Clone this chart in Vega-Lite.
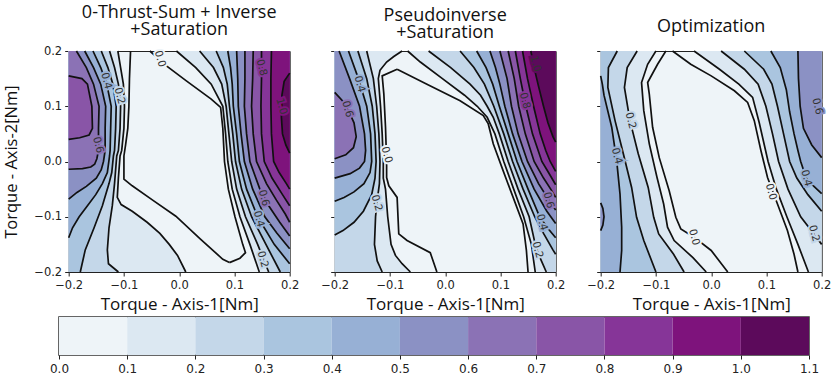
{
"$schema": "https://vega.github.io/schema/vega-lite/v6.json",
"padding": {"left": 3, "top": 3, "right": 0, "bottom": 0},
"config": {
 "font": "DejaVu Sans",
 "view": {"stroke": "#222", "strokeWidth": 1},
 "axis": {"grid": false, "domain": false, "tickColor": "#222", "tickSize": 4, "tickWidth": 1, "labelFont": "DejaVu Sans", "labelFontSize": 11.5, "labelColor": "#222", "labelFlush": false, "labelOverlap": false, "titleFont": "Open Sans", "titleFontSize": 16.5, "titleFontWeight": "normal", "titleColor": "#111"},
 "axisX": {"labelPadding": 3, "titlePadding": 6, "titleFontSize": 17},
 "axisY": {"labelPadding": 3, "titlePadding": 14},
 "title": {"font": "Open Sans", "fontSize": 18, "fontWeight": "normal", "color": "#111", "lineHeight": 17, "offset": 6, "anchor": "middle"}
},
"datasets": {
 "bar": [{"v":0,"v2":0.1},{"v":0.1,"v2":0.2},{"v":0.2,"v2":0.3},{"v":0.3,"v2":0.4},{"v":0.4,"v2":0.5},{"v":0.5,"v2":0.6},{"v":0.6,"v2":0.7},{"v":0.7,"v2":0.8},{"v":0.8,"v2":0.9},{"v":0.9,"v2":1.0},{"v":1.0,"v2":1.1}],
 "labels": [
  {"p":1,"t":"0.0","x":-0.035,"y":0.186,"c":0},
  {"p":1,"t":"0.4","x":-0.132,"y":0.146,"c":0.4},
  {"p":1,"t":"0.2","x":-0.108,"y":0.119,"c":0.2},
  {"p":1,"t":"0.6","x":-0.147,"y":0.03,"c":0.6},
  {"p":1,"t":"0.8","x":0.149,"y":0.17,"c":0.8},
  {"p":1,"t":"1.0","x":0.185,"y":0.1,"c":0.9},
  {"p":1,"t":"0.6","x":0.153,"y":-0.066,"c":0.6},
  {"p":1,"t":"0.4","x":0.144,"y":-0.104,"c":0.4},
  {"p":1,"t":"0.2","x":0.151,"y":-0.177,"c":0.2},
  {"p":2,"t":"0.4","x":-0.155,"y":0.14,"c":0.4},
  {"p":2,"t":"0.6","x":-0.177,"y":0.095,"c":0.6},
  {"p":2,"t":"0.0","x":-0.106,"y":0.012,"c":0},
  {"p":2,"t":"0.2","x":-0.124,"y":-0.075,"c":0.2},
  {"p":2,"t":"1.0","x":0.163,"y":0.177,"c":1.0},
  {"p":2,"t":"0.8","x":0.144,"y":0.11,"c":0.8},
  {"p":2,"t":"0.6","x":0.187,"y":-0.07,"c":0.6},
  {"p":2,"t":"0.4","x":0.175,"y":-0.11,"c":0.4},
  {"p":2,"t":"0.2","x":0.167,"y":-0.16,"c":0.2},
  {"p":3,"t":"0.2","x":-0.146,"y":0.074,"c":0.2},
  {"p":3,"t":"0.4","x":-0.171,"y":0.01,"c":0.4},
  {"p":3,"t":"0.0","x":-0.031,"y":-0.137,"c":0},
  {"p":3,"t":"0.0","x":0.108,"y":-0.055,"c":0},
  {"p":3,"t":"0.4","x":0.172,"y":-0.03,"c":0.4},
  {"p":3,"t":"0.2","x":0.186,"y":-0.13,"c":0.2},
  {"p":3,"t":"0.6","x":0.192,"y":0.1,"c":0.5}
 ],
 "contours": [
  {"p":1,"id":"1N1","s":"N","c":0,"y":0.2,"x":-0.088},{"p":1,"id":"1N1","s":"N","c":0,"y":0.15,"x":-0.09},{"p":1,"id":"1N1","s":"N","c":0,"y":0.1,"x":-0.091},{"p":1,"id":"1N1","s":"N","c":0,"y":0.06,"x":-0.093},{"p":1,"id":"1N1","s":"N","c":0,"y":0.03,"x":-0.097},{"p":1,"id":"1N1","s":"N","c":0,"y":0.01,"x":-0.1},{"p":1,"id":"1N1","s":"N","c":0,"y":-0.032,"x":-0.1},{"p":1,"id":"1N1","s":"N","c":0,"y":-0.044,"x":-0.085},{"p":1,"id":"1N1","s":"N","c":0,"y":-0.07,"x":-0.048},{"p":1,"id":"1N1","s":"N","c":0,"y":-0.099,"x":-0.006},{"p":1,"id":"1N1","s":"N","c":0,"y":-0.14,"x":0.038},{"p":1,"id":"1N1","s":"N","c":0,"y":-0.177,"x":0.079},{"p":1,"id":"1N1","s":"N","c":0,"y":-0.183,"x":0.091},
  {"p":1,"id":"1N2","s":"N","c":0,"y":0.2,"x":-0.053},{"p":1,"id":"1N2","s":"N","c":0,"y":0.173,"x":-0.023},{"p":1,"id":"1N2","s":"N","c":0,"y":0.146,"x":0.013},{"p":1,"id":"1N2","s":"N","c":0,"y":0.113,"x":0.058},{"p":1,"id":"1N2","s":"N","c":0,"y":0.098,"x":0.075},{"p":1,"id":"1N2","s":"N","c":0,"y":0.06,"x":0.079},{"p":1,"id":"1N2","s":"N","c":0,"y":0.0,"x":0.082},{"p":1,"id":"1N2","s":"N","c":0,"y":-0.05,"x":0.089},{"p":1,"id":"1N2","s":"N","c":0,"y":-0.1,"x":0.101},{"p":1,"id":"1N2","s":"N","c":0,"y":-0.15,"x":0.115},{"p":1,"id":"1N2","s":"N","c":0,"y":-0.165,"x":0.12},{"p":1,"id":"1N2","s":"N","c":0,"y":-0.175,"x":0.11},{"p":1,"id":"1N2","s":"N","c":0,"y":-0.183,"x":0.091},

  {"p":1,"id":"1L01","s":"L","c":0.1,"y":0.2,"x":-0.111},{"p":1,"id":"1L01","s":"L","c":0.1,"y":0.17,"x":-0.106},{"p":1,"id":"1L01","s":"L","c":0.1,"y":0.14,"x":-0.101},{"p":1,"id":"1L01","s":"L","c":0.1,"y":0.1,"x":-0.099},{"p":1,"id":"1L01","s":"L","c":0.1,"y":0.06,"x":-0.1},{"p":1,"id":"1L01","s":"L","c":0.1,"y":0.02,"x":-0.104},{"p":1,"id":"1L01","s":"L","c":0.1,"y":0.01,"x":-0.107},{"p":1,"id":"1L01","s":"L","c":0.1,"y":-0.03,"x":-0.11},{"p":1,"id":"1L01","s":"L","c":0.1,"y":-0.065,"x":-0.112},{"p":1,"id":"1L01","s":"L","c":0.1,"y":-0.078,"x":-0.105},{"p":1,"id":"1L01","s":"L","c":0.1,"y":-0.09,"x":-0.085},{"p":1,"id":"1L01","s":"L","c":0.1,"y":-0.11,"x":-0.058},{"p":1,"id":"1L01","s":"L","c":0.1,"y":-0.13,"x":-0.035},{"p":1,"id":"1L01","s":"L","c":0.1,"y":-0.15,"x":-0.018},{"p":1,"id":"1L01","s":"L","c":0.1,"y":-0.17,"x":-0.003},{"p":1,"id":"1L01","s":"L","c":0.1,"y":-0.2,"x":0.012},
  {"p":1,"id":"1L02","s":"L","c":0.2,"y":0.2,"x":-0.126},{"p":1,"id":"1L02","s":"L","c":0.2,"y":0.17,"x":-0.117},{"p":1,"id":"1L02","s":"L","c":0.2,"y":0.14,"x":-0.11},{"p":1,"id":"1L02","s":"L","c":0.2,"y":0.1,"x":-0.106},{"p":1,"id":"1L02","s":"L","c":0.2,"y":0.06,"x":-0.107},{"p":1,"id":"1L02","s":"L","c":0.2,"y":0.02,"x":-0.11},{"p":1,"id":"1L02","s":"L","c":0.2,"y":0.01,"x":-0.113},{"p":1,"id":"1L02","s":"L","c":0.2,"y":-0.04,"x":-0.117},{"p":1,"id":"1L02","s":"L","c":0.2,"y":-0.08,"x":-0.121},{"p":1,"id":"1L02","s":"L","c":0.2,"y":-0.12,"x":-0.127},{"p":1,"id":"1L02","s":"L","c":0.2,"y":-0.16,"x":-0.13},{"p":1,"id":"1L02","s":"L","c":0.2,"y":-0.185,"x":-0.128},{"p":1,"id":"1L02","s":"L","c":0.2,"y":-0.2,"x":-0.11},
  {"p":1,"id":"1L03","s":"L","c":0.3,"y":0.2,"x":-0.141},{"p":1,"id":"1L03","s":"L","c":0.3,"y":0.17,"x":-0.129},{"p":1,"id":"1L03","s":"L","c":0.3,"y":0.14,"x":-0.12},{"p":1,"id":"1L03","s":"L","c":0.3,"y":0.1,"x":-0.114},{"p":1,"id":"1L03","s":"L","c":0.3,"y":0.06,"x":-0.115},{"p":1,"id":"1L03","s":"L","c":0.3,"y":0.02,"x":-0.117},{"p":1,"id":"1L03","s":"L","c":0.3,"y":0.01,"x":-0.119},{"p":1,"id":"1L03","s":"L","c":0.3,"y":-0.02,"x":-0.122},{"p":1,"id":"1L03","s":"L","c":0.3,"y":-0.04,"x":-0.127},{"p":1,"id":"1L03","s":"L","c":0.3,"y":-0.08,"x":-0.139},{"p":1,"id":"1L03","s":"L","c":0.3,"y":-0.12,"x":-0.154},{"p":1,"id":"1L03","s":"L","c":0.3,"y":-0.16,"x":-0.17},{"p":1,"id":"1L03","s":"L","c":0.3,"y":-0.2,"x":-0.179},
  {"p":1,"id":"1L04","s":"L","c":0.4,"y":0.2,"x":-0.156},{"p":1,"id":"1L04","s":"L","c":0.4,"y":0.17,"x":-0.142},{"p":1,"id":"1L04","s":"L","c":0.4,"y":0.14,"x":-0.131},{"p":1,"id":"1L04","s":"L","c":0.4,"y":0.1,"x":-0.123},{"p":1,"id":"1L04","s":"L","c":0.4,"y":0.06,"x":-0.124},{"p":1,"id":"1L04","s":"L","c":0.4,"y":0.02,"x":-0.125},{"p":1,"id":"1L04","s":"L","c":0.4,"y":0.01,"x":-0.126},{"p":1,"id":"1L04","s":"L","c":0.4,"y":-0.02,"x":-0.13},{"p":1,"id":"1L04","s":"L","c":0.4,"y":-0.04,"x":-0.139},{"p":1,"id":"1L04","s":"L","c":0.4,"y":-0.06,"x":-0.151},{"p":1,"id":"1L04","s":"L","c":0.4,"y":-0.08,"x":-0.166},{"p":1,"id":"1L04","s":"L","c":0.4,"y":-0.1,"x":-0.181},{"p":1,"id":"1L04","s":"L","c":0.4,"y":-0.12,"x":-0.193},{"p":1,"id":"1L04","s":"L","c":0.4,"y":-0.138,"x":-0.2},
  {"p":1,"id":"1L05","s":"L","c":0.5,"y":0.2,"x":-0.171},{"p":1,"id":"1L05","s":"L","c":0.5,"y":0.17,"x":-0.155},{"p":1,"id":"1L05","s":"L","c":0.5,"y":0.14,"x":-0.142},{"p":1,"id":"1L05","s":"L","c":0.5,"y":0.1,"x":-0.133},{"p":1,"id":"1L05","s":"L","c":0.5,"y":0.06,"x":-0.134},{"p":1,"id":"1L05","s":"L","c":0.5,"y":0.02,"x":-0.134},{"p":1,"id":"1L05","s":"L","c":0.5,"y":0.0,"x":-0.137},{"p":1,"id":"1L05","s":"L","c":0.5,"y":-0.015,"x":-0.141},{"p":1,"id":"1L05","s":"L","c":0.5,"y":-0.03,"x":-0.15},{"p":1,"id":"1L05","s":"L","c":0.5,"y":-0.045,"x":-0.168},{"p":1,"id":"1L05","s":"L","c":0.5,"y":-0.056,"x":-0.185},{"p":1,"id":"1L05","s":"L","c":0.5,"y":-0.068,"x":-0.2},
  {"p":1,"id":"1L06","s":"L","c":0.6,"y":0.2,"x":-0.186},{"p":1,"id":"1L06","s":"L","c":0.6,"y":0.17,"x":-0.168},{"p":1,"id":"1L06","s":"L","c":0.6,"y":0.14,"x":-0.155},{"p":1,"id":"1L06","s":"L","c":0.6,"y":0.1,"x":-0.145},{"p":1,"id":"1L06","s":"L","c":0.6,"y":0.06,"x":-0.146},{"p":1,"id":"1L06","s":"L","c":0.6,"y":0.02,"x":-0.146},{"p":1,"id":"1L06","s":"L","c":0.6,"y":0.005,"x":-0.149},{"p":1,"id":"1L06","s":"L","c":0.6,"y":-0.005,"x":-0.153},{"p":1,"id":"1L06","s":"L","c":0.6,"y":-0.01,"x":-0.16},{"p":1,"id":"1L06","s":"L","c":0.6,"y":-0.013,"x":-0.175},{"p":1,"id":"1L06","s":"L","c":0.6,"y":-0.014,"x":-0.2},
  {"p":1,"id":"1L07","s":"L","c":0.7,"y":0.155,"x":-0.2},{"p":1,"id":"1L07","s":"L","c":0.7,"y":0.15,"x":-0.176},{"p":1,"id":"1L07","s":"L","c":0.7,"y":0.14,"x":-0.166},{"p":1,"id":"1L07","s":"L","c":0.7,"y":0.1,"x":-0.158},{"p":1,"id":"1L07","s":"L","c":0.7,"y":0.06,"x":-0.157},{"p":1,"id":"1L07","s":"L","c":0.7,"y":0.048,"x":-0.163},{"p":1,"id":"1L07","s":"L","c":0.7,"y":0.043,"x":-0.18},{"p":1,"id":"1L07","s":"L","c":0.7,"y":0.04,"x":-0.2},

  {"p":1,"id":"1R01","s":"R","c":0.1,"y":0.2,"x":-0.005},{"p":1,"id":"1R01","s":"R","c":0.1,"y":0.17,"x":0.03},{"p":1,"id":"1R01","s":"R","c":0.1,"y":0.14,"x":0.058},{"p":1,"id":"1R01","s":"R","c":0.1,"y":0.1,"x":0.079},{"p":1,"id":"1R01","s":"R","c":0.1,"y":0.05,"x":0.084},{"p":1,"id":"1R01","s":"R","c":0.1,"y":0.0,"x":0.088},{"p":1,"id":"1R01","s":"R","c":0.1,"y":-0.05,"x":0.096},{"p":1,"id":"1R01","s":"R","c":0.1,"y":-0.1,"x":0.11},{"p":1,"id":"1R01","s":"R","c":0.1,"y":-0.15,"x":0.128},{"p":1,"id":"1R01","s":"R","c":0.1,"y":-0.2,"x":0.145},
  {"p":1,"id":"1R02","s":"R","c":0.2,"y":0.2,"x":0.037},{"p":1,"id":"1R02","s":"R","c":0.2,"y":0.17,"x":0.062},{"p":1,"id":"1R02","s":"R","c":0.2,"y":0.14,"x":0.077},{"p":1,"id":"1R02","s":"R","c":0.2,"y":0.1,"x":0.085},{"p":1,"id":"1R02","s":"R","c":0.2,"y":0.05,"x":0.09},{"p":1,"id":"1R02","s":"R","c":0.2,"y":0.0,"x":0.095},{"p":1,"id":"1R02","s":"R","c":0.2,"y":-0.05,"x":0.104},{"p":1,"id":"1R02","s":"R","c":0.2,"y":-0.1,"x":0.12},{"p":1,"id":"1R02","s":"R","c":0.2,"y":-0.15,"x":0.142},{"p":1,"id":"1R02","s":"R","c":0.2,"y":-0.2,"x":0.162},
  {"p":1,"id":"1R03","s":"R","c":0.3,"y":0.2,"x":0.067},{"p":1,"id":"1R03","s":"R","c":0.3,"y":0.17,"x":0.08},{"p":1,"id":"1R03","s":"R","c":0.3,"y":0.14,"x":0.087},{"p":1,"id":"1R03","s":"R","c":0.3,"y":0.1,"x":0.091},{"p":1,"id":"1R03","s":"R","c":0.3,"y":0.05,"x":0.097},{"p":1,"id":"1R03","s":"R","c":0.3,"y":0.0,"x":0.102},{"p":1,"id":"1R03","s":"R","c":0.3,"y":-0.05,"x":0.113},{"p":1,"id":"1R03","s":"R","c":0.3,"y":-0.1,"x":0.131},{"p":1,"id":"1R03","s":"R","c":0.3,"y":-0.15,"x":0.157},{"p":1,"id":"1R03","s":"R","c":0.3,"y":-0.2,"x":0.183},
  {"p":1,"id":"1R04","s":"R","c":0.4,"y":0.2,"x":0.088},{"p":1,"id":"1R04","s":"R","c":0.4,"y":0.17,"x":0.093},{"p":1,"id":"1R04","s":"R","c":0.4,"y":0.14,"x":0.096},{"p":1,"id":"1R04","s":"R","c":0.4,"y":0.1,"x":0.098},{"p":1,"id":"1R04","s":"R","c":0.4,"y":0.05,"x":0.104},{"p":1,"id":"1R04","s":"R","c":0.4,"y":0.0,"x":0.109},{"p":1,"id":"1R04","s":"R","c":0.4,"y":-0.05,"x":0.122},{"p":1,"id":"1R04","s":"R","c":0.4,"y":-0.1,"x":0.142},{"p":1,"id":"1R04","s":"R","c":0.4,"y":-0.15,"x":0.172},{"p":1,"id":"1R04","s":"R","c":0.4,"y":-0.185,"x":0.2},
  {"p":1,"id":"1R05","s":"R","c":0.5,"y":0.2,"x":0.104},{"p":1,"id":"1R05","s":"R","c":0.5,"y":0.15,"x":0.106},{"p":1,"id":"1R05","s":"R","c":0.5,"y":0.1,"x":0.107},{"p":1,"id":"1R05","s":"R","c":0.5,"y":0.05,"x":0.112},{"p":1,"id":"1R05","s":"R","c":0.5,"y":0.0,"x":0.118},{"p":1,"id":"1R05","s":"R","c":0.5,"y":-0.05,"x":0.133},{"p":1,"id":"1R05","s":"R","c":0.5,"y":-0.1,"x":0.155},{"p":1,"id":"1R05","s":"R","c":0.5,"y":-0.13,"x":0.177},{"p":1,"id":"1R05","s":"R","c":0.5,"y":-0.158,"x":0.2},
  {"p":1,"id":"1R06","s":"R","c":0.6,"y":0.2,"x":0.119},{"p":1,"id":"1R06","s":"R","c":0.6,"y":0.15,"x":0.119},{"p":1,"id":"1R06","s":"R","c":0.6,"y":0.1,"x":0.118},{"p":1,"id":"1R06","s":"R","c":0.6,"y":0.05,"x":0.122},{"p":1,"id":"1R06","s":"R","c":0.6,"y":0.0,"x":0.128},{"p":1,"id":"1R06","s":"R","c":0.6,"y":-0.05,"x":0.146},{"p":1,"id":"1R06","s":"R","c":0.6,"y":-0.08,"x":0.162},{"p":1,"id":"1R06","s":"R","c":0.6,"y":-0.11,"x":0.182},{"p":1,"id":"1R06","s":"R","c":0.6,"y":-0.135,"x":0.2},
  {"p":1,"id":"1R07","s":"R","c":0.7,"y":0.2,"x":0.134},{"p":1,"id":"1R07","s":"R","c":0.7,"y":0.15,"x":0.133},{"p":1,"id":"1R07","s":"R","c":0.7,"y":0.1,"x":0.131},{"p":1,"id":"1R07","s":"R","c":0.7,"y":0.05,"x":0.134},{"p":1,"id":"1R07","s":"R","c":0.7,"y":0.0,"x":0.14},{"p":1,"id":"1R07","s":"R","c":0.7,"y":-0.04,"x":0.158},{"p":1,"id":"1R07","s":"R","c":0.7,"y":-0.07,"x":0.176},{"p":1,"id":"1R07","s":"R","c":0.7,"y":-0.095,"x":0.192},{"p":1,"id":"1R07","s":"R","c":0.7,"y":-0.11,"x":0.2},
  {"p":1,"id":"1R08","s":"R","c":0.8,"y":0.2,"x":0.149},{"p":1,"id":"1R08","s":"R","c":0.8,"y":0.15,"x":0.149},{"p":1,"id":"1R08","s":"R","c":0.8,"y":0.1,"x":0.148},{"p":1,"id":"1R08","s":"R","c":0.8,"y":0.05,"x":0.149},{"p":1,"id":"1R08","s":"R","c":0.8,"y":0.0,"x":0.154},{"p":1,"id":"1R08","s":"R","c":0.8,"y":-0.03,"x":0.168},{"p":1,"id":"1R08","s":"R","c":0.8,"y":-0.06,"x":0.187},{"p":1,"id":"1R08","s":"R","c":0.8,"y":-0.08,"x":0.2},
  {"p":1,"id":"1R09","s":"R","c":0.9,"y":0.2,"x":0.167},{"p":1,"id":"1R09","s":"R","c":0.9,"y":0.15,"x":0.166},{"p":1,"id":"1R09","s":"R","c":0.9,"y":0.1,"x":0.166},{"p":1,"id":"1R09","s":"R","c":0.9,"y":0.05,"x":0.167},{"p":1,"id":"1R09","s":"R","c":0.9,"y":0.0,"x":0.171},{"p":1,"id":"1R09","s":"R","c":0.9,"y":-0.02,"x":0.181},{"p":1,"id":"1R09","s":"R","c":0.9,"y":-0.04,"x":0.194},{"p":1,"id":"1R09","s":"R","c":0.9,"y":-0.05,"x":0.2},
  {"p":1,"id":"1R10","s":"R","c":1.0,"y":0.16,"x":0.2},{"p":1,"id":"1R10","s":"R","c":1.0,"y":0.145,"x":0.19},{"p":1,"id":"1R10","s":"R","c":1.0,"y":0.12,"x":0.186},{"p":1,"id":"1R10","s":"R","c":1.0,"y":0.08,"x":0.185},{"p":1,"id":"1R10","s":"R","c":1.0,"y":0.05,"x":0.187},{"p":1,"id":"1R10","s":"R","c":1.0,"y":0.03,"x":0.193},{"p":1,"id":"1R10","s":"R","c":1.0,"y":0.015,"x":0.2},

  {"p":2,"id":"2N1","s":"N","c":0,"y":0.167,"x":-0.087},{"p":2,"id":"2N1","s":"N","c":0,"y":0.155,"x":-0.114},{"p":2,"id":"2N1","s":"N","c":0,"y":0.122,"x":-0.111},{"p":2,"id":"2N1","s":"N","c":0,"y":0.062,"x":-0.108},{"p":2,"id":"2N1","s":"N","c":0,"y":0.0,"x":-0.106},{"p":2,"id":"2N1","s":"N","c":0,"y":-0.029,"x":-0.106},{"p":2,"id":"2N1","s":"N","c":0,"y":-0.044,"x":-0.102},{"p":2,"id":"2N1","s":"N","c":0,"y":-0.065,"x":-0.087},{"p":2,"id":"2N1","s":"N","c":0,"y":-0.131,"x":-0.084},{"p":2,"id":"2N1","s":"N","c":0,"y":-0.143,"x":-0.069},{"p":2,"id":"2N1","s":"N","c":0,"y":-0.165,"x":-0.027},{"p":2,"id":"2N1","s":"N","c":0,"y":-0.2,"x":-0.015},
  {"p":2,"id":"2N2","s":"N","c":0,"y":0.167,"x":-0.087},{"p":2,"id":"2N2","s":"N","c":0,"y":0.14,"x":-0.033},{"p":2,"id":"2N2","s":"N","c":0,"y":0.11,"x":0.027},{"p":2,"id":"2N2","s":"N","c":0,"y":0.083,"x":0.069},{"p":2,"id":"2N2","s":"N","c":0,"y":0.068,"x":0.078},{"p":2,"id":"2N2","s":"N","c":0,"y":0.032,"x":0.087},{"p":2,"id":"2N2","s":"N","c":0,"y":-0.017,"x":0.105},{"p":2,"id":"2N2","s":"N","c":0,"y":-0.065,"x":0.123},{"p":2,"id":"2N2","s":"N","c":0,"y":-0.113,"x":0.141},{"p":2,"id":"2N2","s":"N","c":0,"y":-0.161,"x":0.147},{"p":2,"id":"2N2","s":"N","c":0,"y":-0.2,"x":0.15},

  {"p":2,"id":"2L01","s":"L","c":0.1,"y":0.2,"x":-0.078},{"p":2,"id":"2L01","s":"L","c":0.1,"y":0.19,"x":-0.093},{"p":2,"id":"2L01","s":"L","c":0.1,"y":0.18,"x":-0.106},{"p":2,"id":"2L01","s":"L","c":0.1,"y":0.165,"x":-0.118},{"p":2,"id":"2L01","s":"L","c":0.1,"y":0.15,"x":-0.121},{"p":2,"id":"2L01","s":"L","c":0.1,"y":0.1,"x":-0.117},{"p":2,"id":"2L01","s":"L","c":0.1,"y":0.05,"x":-0.114},{"p":2,"id":"2L01","s":"L","c":0.1,"y":0.0,"x":-0.112},{"p":2,"id":"2L01","s":"L","c":0.1,"y":-0.03,"x":-0.112},{"p":2,"id":"2L01","s":"L","c":0.1,"y":-0.05,"x":-0.108},{"p":2,"id":"2L01","s":"L","c":0.1,"y":-0.1,"x":-0.104},{"p":2,"id":"2L01","s":"L","c":0.1,"y":-0.15,"x":-0.098},{"p":2,"id":"2L01","s":"L","c":0.1,"y":-0.17,"x":-0.09},{"p":2,"id":"2L01","s":"L","c":0.1,"y":-0.185,"x":-0.078},{"p":2,"id":"2L01","s":"L","c":0.1,"y":-0.2,"x":-0.063},
  {"p":2,"id":"2L02","s":"L","c":0.2,"y":0.2,"x":-0.142},{"p":2,"id":"2L02","s":"L","c":0.2,"y":0.15,"x":-0.13},{"p":2,"id":"2L02","s":"L","c":0.2,"y":0.1,"x":-0.124},{"p":2,"id":"2L02","s":"L","c":0.2,"y":0.05,"x":-0.12},{"p":2,"id":"2L02","s":"L","c":0.2,"y":0.0,"x":-0.118},{"p":2,"id":"2L02","s":"L","c":0.2,"y":-0.04,"x":-0.119},{"p":2,"id":"2L02","s":"L","c":0.2,"y":-0.07,"x":-0.123},{"p":2,"id":"2L02","s":"L","c":0.2,"y":-0.1,"x":-0.126},{"p":2,"id":"2L02","s":"L","c":0.2,"y":-0.15,"x":-0.128},{"p":2,"id":"2L02","s":"L","c":0.2,"y":-0.18,"x":-0.123},{"p":2,"id":"2L02","s":"L","c":0.2,"y":-0.2,"x":-0.114},
  {"p":2,"id":"2L03","s":"L","c":0.3,"y":0.2,"x":-0.158},{"p":2,"id":"2L03","s":"L","c":0.3,"y":0.15,"x":-0.142},{"p":2,"id":"2L03","s":"L","c":0.3,"y":0.1,"x":-0.132},{"p":2,"id":"2L03","s":"L","c":0.3,"y":0.05,"x":-0.127},{"p":2,"id":"2L03","s":"L","c":0.3,"y":0.0,"x":-0.125},{"p":2,"id":"2L03","s":"L","c":0.3,"y":-0.03,"x":-0.127},{"p":2,"id":"2L03","s":"L","c":0.3,"y":-0.06,"x":-0.133},{"p":2,"id":"2L03","s":"L","c":0.3,"y":-0.09,"x":-0.148},{"p":2,"id":"2L03","s":"L","c":0.3,"y":-0.11,"x":-0.165},{"p":2,"id":"2L03","s":"L","c":0.3,"y":-0.125,"x":-0.185},{"p":2,"id":"2L03","s":"L","c":0.3,"y":-0.133,"x":-0.2},
  {"p":2,"id":"2L04","s":"L","c":0.4,"y":0.2,"x":-0.175},{"p":2,"id":"2L04","s":"L","c":0.4,"y":0.15,"x":-0.157},{"p":2,"id":"2L04","s":"L","c":0.4,"y":0.1,"x":-0.142},{"p":2,"id":"2L04","s":"L","c":0.4,"y":0.05,"x":-0.135},{"p":2,"id":"2L04","s":"L","c":0.4,"y":0.0,"x":-0.133},{"p":2,"id":"2L04","s":"L","c":0.4,"y":-0.02,"x":-0.136},{"p":2,"id":"2L04","s":"L","c":0.4,"y":-0.04,"x":-0.147},{"p":2,"id":"2L04","s":"L","c":0.4,"y":-0.055,"x":-0.165},{"p":2,"id":"2L04","s":"L","c":0.4,"y":-0.065,"x":-0.183},{"p":2,"id":"2L04","s":"L","c":0.4,"y":-0.072,"x":-0.2},
  {"p":2,"id":"2L05","s":"L","c":0.5,"y":0.2,"x":-0.192},{"p":2,"id":"2L05","s":"L","c":0.5,"y":0.15,"x":-0.173},{"p":2,"id":"2L05","s":"L","c":0.5,"y":0.1,"x":-0.155},{"p":2,"id":"2L05","s":"L","c":0.5,"y":0.05,"x":-0.146},{"p":2,"id":"2L05","s":"L","c":0.5,"y":0.02,"x":-0.144},{"p":2,"id":"2L05","s":"L","c":0.5,"y":0.0,"x":-0.146},{"p":2,"id":"2L05","s":"L","c":0.5,"y":-0.012,"x":-0.155},{"p":2,"id":"2L05","s":"L","c":0.5,"y":-0.022,"x":-0.172},{"p":2,"id":"2L05","s":"L","c":0.5,"y":-0.03,"x":-0.2},
  {"p":2,"id":"2L06","s":"L","c":0.6,"y":0.125,"x":-0.2},{"p":2,"id":"2L06","s":"L","c":0.6,"y":0.11,"x":-0.186},{"p":2,"id":"2L06","s":"L","c":0.6,"y":0.09,"x":-0.174},{"p":2,"id":"2L06","s":"L","c":0.6,"y":0.07,"x":-0.165},{"p":2,"id":"2L06","s":"L","c":0.6,"y":0.045,"x":-0.161},{"p":2,"id":"2L06","s":"L","c":0.6,"y":0.025,"x":-0.166},{"p":2,"id":"2L06","s":"L","c":0.6,"y":0.012,"x":-0.18},{"p":2,"id":"2L06","s":"L","c":0.6,"y":0.005,"x":-0.2},

  {"p":2,"id":"2R01","s":"R","c":0.1,"y":0.2,"x":-0.068},{"p":2,"id":"2R01","s":"R","c":0.1,"y":0.18,"x":-0.045},{"p":2,"id":"2R01","s":"R","c":0.1,"y":0.15,"x":-0.005},{"p":2,"id":"2R01","s":"R","c":0.1,"y":0.12,"x":0.035},{"p":2,"id":"2R01","s":"R","c":0.1,"y":0.1,"x":0.058},{"p":2,"id":"2R01","s":"R","c":0.1,"y":0.08,"x":0.076},{"p":2,"id":"2R01","s":"R","c":0.1,"y":0.05,"x":0.09},{"p":2,"id":"2R01","s":"R","c":0.1,"y":0.0,"x":0.106},{"p":2,"id":"2R01","s":"R","c":0.1,"y":-0.05,"x":0.124},{"p":2,"id":"2R01","s":"R","c":0.1,"y":-0.1,"x":0.142},{"p":2,"id":"2R01","s":"R","c":0.1,"y":-0.15,"x":0.156},{"p":2,"id":"2R01","s":"R","c":0.1,"y":-0.2,"x":0.163},
  {"p":2,"id":"2R02","s":"R","c":0.2,"y":0.2,"x":-0.03},{"p":2,"id":"2R02","s":"R","c":0.2,"y":0.17,"x":0.01},{"p":2,"id":"2R02","s":"R","c":0.2,"y":0.14,"x":0.045},{"p":2,"id":"2R02","s":"R","c":0.2,"y":0.12,"x":0.064},{"p":2,"id":"2R02","s":"R","c":0.2,"y":0.1,"x":0.076},{"p":2,"id":"2R02","s":"R","c":0.2,"y":0.08,"x":0.087},{"p":2,"id":"2R02","s":"R","c":0.2,"y":0.05,"x":0.098},{"p":2,"id":"2R02","s":"R","c":0.2,"y":0.0,"x":0.114},{"p":2,"id":"2R02","s":"R","c":0.2,"y":-0.05,"x":0.132},{"p":2,"id":"2R02","s":"R","c":0.2,"y":-0.1,"x":0.152},{"p":2,"id":"2R02","s":"R","c":0.2,"y":-0.15,"x":0.163},{"p":2,"id":"2R02","s":"R","c":0.2,"y":-0.175,"x":0.172},{"p":2,"id":"2R02","s":"R","c":0.2,"y":-0.2,"x":0.183},
  {"p":2,"id":"2R03","s":"R","c":0.3,"y":0.2,"x":0.027},{"p":2,"id":"2R03","s":"R","c":0.3,"y":0.17,"x":0.052},{"p":2,"id":"2R03","s":"R","c":0.3,"y":0.14,"x":0.071},{"p":2,"id":"2R03","s":"R","c":0.3,"y":0.1,"x":0.088},{"p":2,"id":"2R03","s":"R","c":0.3,"y":0.05,"x":0.106},{"p":2,"id":"2R03","s":"R","c":0.3,"y":0.0,"x":0.122},{"p":2,"id":"2R03","s":"R","c":0.3,"y":-0.05,"x":0.141},{"p":2,"id":"2R03","s":"R","c":0.3,"y":-0.1,"x":0.162},{"p":2,"id":"2R03","s":"R","c":0.3,"y":-0.13,"x":0.178},{"p":2,"id":"2R03","s":"R","c":0.3,"y":-0.16,"x":0.195},{"p":2,"id":"2R03","s":"R","c":0.3,"y":-0.168,"x":0.2},
  {"p":2,"id":"2R04","s":"R","c":0.4,"y":0.2,"x":0.057},{"p":2,"id":"2R04","s":"R","c":0.4,"y":0.17,"x":0.074},{"p":2,"id":"2R04","s":"R","c":0.4,"y":0.14,"x":0.086},{"p":2,"id":"2R04","s":"R","c":0.4,"y":0.1,"x":0.098},{"p":2,"id":"2R04","s":"R","c":0.4,"y":0.05,"x":0.114},{"p":2,"id":"2R04","s":"R","c":0.4,"y":0.0,"x":0.13},{"p":2,"id":"2R04","s":"R","c":0.4,"y":-0.05,"x":0.15},{"p":2,"id":"2R04","s":"R","c":0.4,"y":-0.1,"x":0.171},{"p":2,"id":"2R04","s":"R","c":0.4,"y":-0.12,"x":0.185},{"p":2,"id":"2R04","s":"R","c":0.4,"y":-0.138,"x":0.2},
  {"p":2,"id":"2R05","s":"R","c":0.5,"y":0.2,"x":0.081},{"p":2,"id":"2R05","s":"R","c":0.5,"y":0.17,"x":0.091},{"p":2,"id":"2R05","s":"R","c":0.5,"y":0.14,"x":0.099},{"p":2,"id":"2R05","s":"R","c":0.5,"y":0.1,"x":0.108},{"p":2,"id":"2R05","s":"R","c":0.5,"y":0.05,"x":0.122},{"p":2,"id":"2R05","s":"R","c":0.5,"y":0.0,"x":0.139},{"p":2,"id":"2R05","s":"R","c":0.5,"y":-0.05,"x":0.161},{"p":2,"id":"2R05","s":"R","c":0.5,"y":-0.09,"x":0.184},{"p":2,"id":"2R05","s":"R","c":0.5,"y":-0.112,"x":0.2},
  {"p":2,"id":"2R06","s":"R","c":0.6,"y":0.2,"x":0.099},{"p":2,"id":"2R06","s":"R","c":0.6,"y":0.15,"x":0.112},{"p":2,"id":"2R06","s":"R","c":0.6,"y":0.1,"x":0.12},{"p":2,"id":"2R06","s":"R","c":0.6,"y":0.05,"x":0.132},{"p":2,"id":"2R06","s":"R","c":0.6,"y":0.0,"x":0.149},{"p":2,"id":"2R06","s":"R","c":0.6,"y":-0.04,"x":0.169},{"p":2,"id":"2R06","s":"R","c":0.6,"y":-0.07,"x":0.188},{"p":2,"id":"2R06","s":"R","c":0.6,"y":-0.088,"x":0.2},
  {"p":2,"id":"2R07","s":"R","c":0.7,"y":0.2,"x":0.114},{"p":2,"id":"2R07","s":"R","c":0.7,"y":0.15,"x":0.125},{"p":2,"id":"2R07","s":"R","c":0.7,"y":0.1,"x":0.133},{"p":2,"id":"2R07","s":"R","c":0.7,"y":0.05,"x":0.145},{"p":2,"id":"2R07","s":"R","c":0.7,"y":0.0,"x":0.161},{"p":2,"id":"2R07","s":"R","c":0.7,"y":-0.03,"x":0.178},{"p":2,"id":"2R07","s":"R","c":0.7,"y":-0.05,"x":0.191},{"p":2,"id":"2R07","s":"R","c":0.7,"y":-0.065,"x":0.2},
  {"p":2,"id":"2R08","s":"R","c":0.8,"y":0.2,"x":0.127},{"p":2,"id":"2R08","s":"R","c":0.8,"y":0.15,"x":0.136},{"p":2,"id":"2R08","s":"R","c":0.8,"y":0.1,"x":0.146},{"p":2,"id":"2R08","s":"R","c":0.8,"y":0.05,"x":0.158},{"p":2,"id":"2R08","s":"R","c":0.8,"y":0.0,"x":0.175},{"p":2,"id":"2R08","s":"R","c":0.8,"y":-0.02,"x":0.187},{"p":2,"id":"2R08","s":"R","c":0.8,"y":-0.042,"x":0.2},
  {"p":2,"id":"2R09","s":"R","c":0.9,"y":0.2,"x":0.14},{"p":2,"id":"2R09","s":"R","c":0.9,"y":0.15,"x":0.149},{"p":2,"id":"2R09","s":"R","c":0.9,"y":0.1,"x":0.16},{"p":2,"id":"2R09","s":"R","c":0.9,"y":0.05,"x":0.172},{"p":2,"id":"2R09","s":"R","c":0.9,"y":0.02,"x":0.182},{"p":2,"id":"2R09","s":"R","c":0.9,"y":0.0,"x":0.19},{"p":2,"id":"2R09","s":"R","c":0.9,"y":-0.018,"x":0.2},
  {"p":2,"id":"2R10","s":"R","c":1.0,"y":0.2,"x":0.155},{"p":2,"id":"2R10","s":"R","c":1.0,"y":0.17,"x":0.161},{"p":2,"id":"2R10","s":"R","c":1.0,"y":0.14,"x":0.168},{"p":2,"id":"2R10","s":"R","c":1.0,"y":0.1,"x":0.178},{"p":2,"id":"2R10","s":"R","c":1.0,"y":0.07,"x":0.186},{"p":2,"id":"2R10","s":"R","c":1.0,"y":0.045,"x":0.195},{"p":2,"id":"2R10","s":"R","c":1.0,"y":0.035,"x":0.2},

  {"p":3,"id":"3N1","s":"N","c":0,"y":0.2,"x":-0.082},{"p":3,"id":"3N1","s":"N","c":0,"y":0.176,"x":-0.097},{"p":3,"id":"3N1","s":"N","c":0,"y":0.143,"x":-0.115},{"p":3,"id":"3N1","s":"N","c":0,"y":0.122,"x":-0.112},{"p":3,"id":"3N1","s":"N","c":0,"y":0.062,"x":-0.106},{"p":3,"id":"3N1","s":"N","c":0,"y":0.007,"x":-0.094},{"p":3,"id":"3N1","s":"N","c":0,"y":-0.053,"x":-0.076},{"p":3,"id":"3N1","s":"N","c":0,"y":-0.101,"x":-0.064},{"p":3,"id":"3N1","s":"N","c":0,"y":-0.122,"x":-0.055},{"p":3,"id":"3N1","s":"N","c":0,"y":-0.137,"x":-0.031},{"p":3,"id":"3N1","s":"N","c":0,"y":-0.161,"x":0.0},{"p":3,"id":"3N1","s":"N","c":0,"y":-0.2,"x":0.03},
  {"p":3,"id":"3N2","s":"N","c":0,"y":0.2,"x":-0.07},{"p":3,"id":"3N2","s":"N","c":0,"y":0.176,"x":-0.037},{"p":3,"id":"3N2","s":"N","c":0,"y":0.155,"x":0.0},{"p":3,"id":"3N2","s":"N","c":0,"y":0.128,"x":0.042},{"p":3,"id":"3N2","s":"N","c":0,"y":0.107,"x":0.066},{"p":3,"id":"3N2","s":"N","c":0,"y":0.074,"x":0.078},{"p":3,"id":"3N2","s":"N","c":0,"y":0.02,"x":0.09},{"p":3,"id":"3N2","s":"N","c":0,"y":-0.029,"x":0.102},{"p":3,"id":"3N2","s":"N","c":0,"y":-0.077,"x":0.12},{"p":3,"id":"3N2","s":"N","c":0,"y":-0.125,"x":0.138},{"p":3,"id":"3N2","s":"N","c":0,"y":-0.168,"x":0.15},{"p":3,"id":"3N2","s":"N","c":0,"y":-0.2,"x":0.157},

  {"p":3,"id":"3L01","s":"L","c":0.1,"y":0.2,"x":-0.1},{"p":3,"id":"3L01","s":"L","c":0.1,"y":0.176,"x":-0.115},{"p":3,"id":"3L01","s":"L","c":0.1,"y":0.143,"x":-0.126},{"p":3,"id":"3L01","s":"L","c":0.1,"y":0.092,"x":-0.122},{"p":3,"id":"3L01","s":"L","c":0.1,"y":0.032,"x":-0.112},{"p":3,"id":"3L01","s":"L","c":0.1,"y":-0.029,"x":-0.098},{"p":3,"id":"3L01","s":"L","c":0.1,"y":-0.077,"x":-0.086},{"p":3,"id":"3L01","s":"L","c":0.1,"y":-0.119,"x":-0.079},{"p":3,"id":"3L01","s":"L","c":0.1,"y":-0.143,"x":-0.067},{"p":3,"id":"3L01","s":"L","c":0.1,"y":-0.174,"x":-0.033},{"p":3,"id":"3L01","s":"L","c":0.1,"y":-0.2,"x":-0.009},
  {"p":3,"id":"3L02","s":"L","c":0.2,"y":0.2,"x":-0.134},{"p":3,"id":"3L02","s":"L","c":0.2,"y":0.17,"x":-0.152},{"p":3,"id":"3L02","s":"L","c":0.2,"y":0.134,"x":-0.157},{"p":3,"id":"3L02","s":"L","c":0.2,"y":0.074,"x":-0.147},{"p":3,"id":"3L02","s":"L","c":0.2,"y":0.014,"x":-0.132},{"p":3,"id":"3L02","s":"L","c":0.2,"y":-0.047,"x":-0.114},{"p":3,"id":"3L02","s":"L","c":0.2,"y":-0.101,"x":-0.104},{"p":3,"id":"3L02","s":"L","c":0.2,"y":-0.131,"x":-0.095},{"p":3,"id":"3L02","s":"L","c":0.2,"y":-0.168,"x":-0.068},{"p":3,"id":"3L02","s":"L","c":0.2,"y":-0.2,"x":-0.049},
  {"p":3,"id":"3L03","s":"L","c":0.3,"y":0.2,"x":-0.17},{"p":3,"id":"3L03","s":"L","c":0.3,"y":0.17,"x":-0.186},{"p":3,"id":"3L03","s":"L","c":0.3,"y":0.134,"x":-0.187},{"p":3,"id":"3L03","s":"L","c":0.3,"y":0.074,"x":-0.174},{"p":3,"id":"3L03","s":"L","c":0.3,"y":0.014,"x":-0.159},{"p":3,"id":"3L03","s":"L","c":0.3,"y":-0.047,"x":-0.144},{"p":3,"id":"3L03","s":"L","c":0.3,"y":-0.101,"x":-0.135},{"p":3,"id":"3L03","s":"L","c":0.3,"y":-0.143,"x":-0.122},{"p":3,"id":"3L03","s":"L","c":0.3,"y":-0.2,"x":-0.1},
  {"p":3,"id":"3L04","s":"L","c":0.4,"y":0.155,"x":-0.2},{"p":3,"id":"3L04","s":"L","c":0.4,"y":0.14,"x":-0.197},{"p":3,"id":"3L04","s":"L","c":0.4,"y":0.12,"x":-0.194},{"p":3,"id":"3L04","s":"L","c":0.4,"y":0.062,"x":-0.18},{"p":3,"id":"3L04","s":"L","c":0.4,"y":0.001,"x":-0.171},{"p":3,"id":"3L04","s":"L","c":0.4,"y":-0.059,"x":-0.165},{"p":3,"id":"3L04","s":"L","c":0.4,"y":-0.119,"x":-0.162},{"p":3,"id":"3L04","s":"L","c":0.4,"y":-0.161,"x":-0.162},{"p":3,"id":"3L04","s":"L","c":0.4,"y":-0.2,"x":-0.165},
  {"p":3,"id":"3L05","s":"L","c":0.5,"y":-0.075,"x":-0.2},{"p":3,"id":"3L05","s":"L","c":0.5,"y":-0.085,"x":-0.196},{"p":3,"id":"3L05","s":"L","c":0.5,"y":-0.1,"x":-0.194},{"p":3,"id":"3L05","s":"L","c":0.5,"y":-0.115,"x":-0.196},{"p":3,"id":"3L05","s":"L","c":0.5,"y":-0.125,"x":-0.2},

  {"p":3,"id":"3R01","s":"R","c":0.1,"y":0.2,"x":-0.031},{"p":3,"id":"3R01","s":"R","c":0.1,"y":0.167,"x":0.015},{"p":3,"id":"3R01","s":"R","c":0.1,"y":0.14,"x":0.05},{"p":3,"id":"3R01","s":"R","c":0.1,"y":0.116,"x":0.075},{"p":3,"id":"3R01","s":"R","c":0.1,"y":0.07,"x":0.087},{"p":3,"id":"3R01","s":"R","c":0.1,"y":0.0,"x":0.103},{"p":3,"id":"3R01","s":"R","c":0.1,"y":-0.05,"x":0.118},{"p":3,"id":"3R01","s":"R","c":0.1,"y":-0.1,"x":0.137},{"p":3,"id":"3R01","s":"R","c":0.1,"y":-0.15,"x":0.157},{"p":3,"id":"3R01","s":"R","c":0.1,"y":-0.2,"x":0.176},
  {"p":3,"id":"3R02","s":"R","c":0.2,"y":0.2,"x":0.018},{"p":3,"id":"3R02","s":"R","c":0.2,"y":0.167,"x":0.06},{"p":3,"id":"3R02","s":"R","c":0.2,"y":0.14,"x":0.085},{"p":3,"id":"3R02","s":"R","c":0.2,"y":0.1,"x":0.099},{"p":3,"id":"3R02","s":"R","c":0.2,"y":0.05,"x":0.111},{"p":3,"id":"3R02","s":"R","c":0.2,"y":0.0,"x":0.122},{"p":3,"id":"3R02","s":"R","c":0.2,"y":-0.05,"x":0.139},{"p":3,"id":"3R02","s":"R","c":0.2,"y":-0.1,"x":0.162},{"p":3,"id":"3R02","s":"R","c":0.2,"y":-0.13,"x":0.185},{"p":3,"id":"3R02","s":"R","c":0.2,"y":-0.15,"x":0.2},
  {"p":3,"id":"3R03","s":"R","c":0.3,"y":0.2,"x":0.06},{"p":3,"id":"3R03","s":"R","c":0.3,"y":0.167,"x":0.095},{"p":3,"id":"3R03","s":"R","c":0.3,"y":0.14,"x":0.11},{"p":3,"id":"3R03","s":"R","c":0.3,"y":0.1,"x":0.12},{"p":3,"id":"3R03","s":"R","c":0.3,"y":0.05,"x":0.131},{"p":3,"id":"3R03","s":"R","c":0.3,"y":0.0,"x":0.142},{"p":3,"id":"3R03","s":"R","c":0.3,"y":-0.03,"x":0.155},{"p":3,"id":"3R03","s":"R","c":0.3,"y":-0.06,"x":0.175},{"p":3,"id":"3R03","s":"R","c":0.3,"y":-0.09,"x":0.2},
  {"p":3,"id":"3R04","s":"R","c":0.4,"y":0.2,"x":0.108},{"p":3,"id":"3R04","s":"R","c":0.4,"y":0.17,"x":0.125},{"p":3,"id":"3R04","s":"R","c":0.4,"y":0.13,"x":0.136},{"p":3,"id":"3R04","s":"R","c":0.4,"y":0.09,"x":0.142},{"p":3,"id":"3R04","s":"R","c":0.4,"y":0.05,"x":0.15},{"p":3,"id":"3R04","s":"R","c":0.4,"y":0.02,"x":0.157},{"p":3,"id":"3R04","s":"R","c":0.4,"y":0.0,"x":0.162},{"p":3,"id":"3R04","s":"R","c":0.4,"y":-0.03,"x":0.172},{"p":3,"id":"3R04","s":"R","c":0.4,"y":-0.045,"x":0.186},{"p":3,"id":"3R04","s":"R","c":0.4,"y":-0.058,"x":0.2},
  {"p":3,"id":"3R05","s":"R","c":0.5,"y":0.2,"x":0.157},{"p":3,"id":"3R05","s":"R","c":0.5,"y":0.15,"x":0.158},{"p":3,"id":"3R05","s":"R","c":0.5,"y":0.1,"x":0.161},{"p":3,"id":"3R05","s":"R","c":0.5,"y":0.06,"x":0.167},{"p":3,"id":"3R05","s":"R","c":0.5,"y":0.03,"x":0.182},{"p":3,"id":"3R05","s":"R","c":0.5,"y":0.007,"x":0.2}
 ]
},
"spacing": 3,
"center": true,
"vconcat": [
 {
  "spacing": 20,
  "hconcat": [
   {
    "width": 221, "height": 221,
    "view": {"fill": "#eef4f8", "stroke": "#222"},
    "title": {"text": ["0-Thrust-Sum + Inverse", "+Saturation"]},
    "encoding": {
     "x": {"field": "x", "type": "quantitative", "scale": {"domain": [-0.2, 0.2], "nice": false, "zero": false}, "axis": {"title": "Torque - Axis-1[Nm]", "values": [-0.2, -0.1, 0, 0.1, 0.2], "format": ".1f"}},
     "y": {"field": "y", "type": "quantitative", "scale": {"domain": [-0.2, 0.2], "nice": false, "zero": false}, "axis": {"title": "Torque - Axis-2[Nm]", "values": [-0.2, -0.1, 0, 0.1, 0.2], "format": ".1f"}}
    },
    "layer": [
     {"data": {"name": "contours"}, "transform": [{"filter": "datum.p == 1 && datum.s == 'L'"}], "mark": {"type": "area", "orient": "horizontal"},
      "encoding": {"x2": {"datum": -0.2}, "detail": {"field": "id"}, "color": {"field": "c", "type": "ordinal", "scale": {"domain": [0,0.1,0.2,0.3,0.4,0.5,0.6,0.7,0.8,0.9,1.0], "range": ["#eef4f8","#dce8f2","#c4d7e9","#aac5df","#97b0d5","#8b91c4","#8b72b5","#8955a7","#863598","#7e137c","#5c0a5b"]}, "legend": null}}},
     {"data": {"name": "contours"}, "transform": [{"filter": "datum.p == 1 && datum.s == 'R'"}], "mark": {"type": "area", "orient": "horizontal"},
      "encoding": {"x2": {"datum": 0.2}, "detail": {"field": "id"}, "color": {"field": "c", "type": "ordinal", "scale": {"domain": [0,0.1,0.2,0.3,0.4,0.5,0.6,0.7,0.8,0.9,1.0], "range": ["#eef4f8","#dce8f2","#c4d7e9","#aac5df","#97b0d5","#8b91c4","#8b72b5","#8955a7","#863598","#7e137c","#5c0a5b"]}, "legend": null}}},
     {"data": {"name": "contours"}, "transform": [{"filter": "datum.p == 1"}], "mark": {"type": "line", "orient": "horizontal", "color": "#111", "strokeWidth": 1.7},
      "encoding": {"detail": {"field": "id"}, "order": {"field": "y"}}},
     {"data": {"name": "labels"}, "transform": [{"filter": "datum.p == 1"}], "mark": {"type": "text", "angle": 75, "font": "DejaVu Sans", "fontSize": 10.5, "strokeWidth": 4},
      "encoding": {"text": {"field": "t"}, "color": {"field": "c", "type": "ordinal", "scale": {"domain": [0,0.1,0.2,0.3,0.4,0.5,0.6,0.7,0.8,0.9,1.0], "range": ["#eef4f8","#dce8f2","#c4d7e9","#aac5df","#97b0d5","#8b91c4","#8b72b5","#8955a7","#863598","#7e137c","#5c0a5b"]}, "legend": null}, "stroke": {"field": "c", "type": "ordinal", "scale": {"domain": [0,0.1,0.2,0.3,0.4,0.5,0.6,0.7,0.8,0.9,1.0], "range": ["#eef4f8","#dce8f2","#c4d7e9","#aac5df","#97b0d5","#8b91c4","#8b72b5","#8955a7","#863598","#7e137c","#5c0a5b"]}, "legend": null}}},
     {"data": {"name": "labels"}, "transform": [{"filter": "datum.p == 1"}], "mark": {"type": "text", "angle": 75, "font": "DejaVu Sans", "fontSize": 10.5, "color": "#333"},
      "encoding": {"text": {"field": "t"}}}
    ]
   },
   {
    "width": 221, "height": 221,
    "view": {"fill": "#eef4f8", "stroke": "#222"},
    "title": {"text": ["Pseudoinverse", "+Saturation"]},
    "encoding": {
     "x": {"field": "x", "type": "quantitative", "scale": {"domain": [-0.2, 0.2], "nice": false, "zero": false}, "axis": {"title": "Torque - Axis-1[Nm]", "values": [-0.2, -0.1, 0, 0.1, 0.2], "format": ".1f"}},
     "y": {"field": "y", "type": "quantitative", "scale": {"domain": [-0.2, 0.2], "nice": false, "zero": false}, "axis": {"title": null, "labels": false, "values": [-0.2, -0.1, 0, 0.1, 0.2]}}
    },
    "layer": [
     {"data": {"name": "contours"}, "transform": [{"filter": "datum.p == 2 && datum.s == 'L'"}], "mark": {"type": "area", "orient": "horizontal"},
      "encoding": {"x2": {"datum": -0.2}, "detail": {"field": "id"}, "color": {"field": "c", "type": "ordinal", "scale": {"domain": [0,0.1,0.2,0.3,0.4,0.5,0.6,0.7,0.8,0.9,1.0], "range": ["#eef4f8","#dce8f2","#c4d7e9","#aac5df","#97b0d5","#8b91c4","#8b72b5","#8955a7","#863598","#7e137c","#5c0a5b"]}, "legend": null}}},
     {"data": {"name": "contours"}, "transform": [{"filter": "datum.p == 2 && datum.s == 'R'"}], "mark": {"type": "area", "orient": "horizontal"},
      "encoding": {"x2": {"datum": 0.2}, "detail": {"field": "id"}, "color": {"field": "c", "type": "ordinal", "scale": {"domain": [0,0.1,0.2,0.3,0.4,0.5,0.6,0.7,0.8,0.9,1.0], "range": ["#eef4f8","#dce8f2","#c4d7e9","#aac5df","#97b0d5","#8b91c4","#8b72b5","#8955a7","#863598","#7e137c","#5c0a5b"]}, "legend": null}}},
     {"data": {"name": "contours"}, "transform": [{"filter": "datum.p == 2"}], "mark": {"type": "line", "orient": "horizontal", "color": "#111", "strokeWidth": 1.7},
      "encoding": {"detail": {"field": "id"}, "order": {"field": "y"}}},
     {"data": {"name": "labels"}, "transform": [{"filter": "datum.p == 2"}], "mark": {"type": "text", "angle": 75, "font": "DejaVu Sans", "fontSize": 10.5, "strokeWidth": 4},
      "encoding": {"text": {"field": "t"}, "color": {"field": "c", "type": "ordinal", "scale": {"domain": [0,0.1,0.2,0.3,0.4,0.5,0.6,0.7,0.8,0.9,1.0], "range": ["#eef4f8","#dce8f2","#c4d7e9","#aac5df","#97b0d5","#8b91c4","#8b72b5","#8955a7","#863598","#7e137c","#5c0a5b"]}, "legend": null}, "stroke": {"field": "c", "type": "ordinal", "scale": {"domain": [0,0.1,0.2,0.3,0.4,0.5,0.6,0.7,0.8,0.9,1.0], "range": ["#eef4f8","#dce8f2","#c4d7e9","#aac5df","#97b0d5","#8b91c4","#8b72b5","#8955a7","#863598","#7e137c","#5c0a5b"]}, "legend": null}}},
     {"data": {"name": "labels"}, "transform": [{"filter": "datum.p == 2"}], "mark": {"type": "text", "angle": 75, "font": "DejaVu Sans", "fontSize": 10.5, "color": "#333"},
      "encoding": {"text": {"field": "t"}}}
    ]
   },
   {
    "width": 221, "height": 221,
    "view": {"fill": "#eef4f8", "stroke": "#222"},
    "title": {"text": "Optimization", "offset": 12},
    "encoding": {
     "x": {"field": "x", "type": "quantitative", "scale": {"domain": [-0.2, 0.2], "nice": false, "zero": false}, "axis": {"title": "Torque - Axis-1[Nm]", "values": [-0.2, -0.1, 0, 0.1, 0.2], "format": ".1f"}},
     "y": {"field": "y", "type": "quantitative", "scale": {"domain": [-0.2, 0.2], "nice": false, "zero": false}, "axis": {"title": null, "labels": false, "values": [-0.2, -0.1, 0, 0.1, 0.2]}}
    },
    "layer": [
     {"data": {"name": "contours"}, "transform": [{"filter": "datum.p == 3 && datum.s == 'L'"}], "mark": {"type": "area", "orient": "horizontal"},
      "encoding": {"x2": {"datum": -0.2}, "detail": {"field": "id"}, "color": {"field": "c", "type": "ordinal", "scale": {"domain": [0,0.1,0.2,0.3,0.4,0.5,0.6,0.7,0.8,0.9,1.0], "range": ["#eef4f8","#dce8f2","#c4d7e9","#aac5df","#97b0d5","#8b91c4","#8b72b5","#8955a7","#863598","#7e137c","#5c0a5b"]}, "legend": null}}},
     {"data": {"name": "contours"}, "transform": [{"filter": "datum.p == 3 && datum.s == 'R'"}], "mark": {"type": "area", "orient": "horizontal"},
      "encoding": {"x2": {"datum": 0.2}, "detail": {"field": "id"}, "color": {"field": "c", "type": "ordinal", "scale": {"domain": [0,0.1,0.2,0.3,0.4,0.5,0.6,0.7,0.8,0.9,1.0], "range": ["#eef4f8","#dce8f2","#c4d7e9","#aac5df","#97b0d5","#8b91c4","#8b72b5","#8955a7","#863598","#7e137c","#5c0a5b"]}, "legend": null}}},
     {"data": {"name": "contours"}, "transform": [{"filter": "datum.p == 3"}], "mark": {"type": "line", "orient": "horizontal", "color": "#111", "strokeWidth": 1.7},
      "encoding": {"detail": {"field": "id"}, "order": {"field": "y"}}},
     {"data": {"name": "labels"}, "transform": [{"filter": "datum.p == 3"}], "mark": {"type": "text", "angle": 75, "font": "DejaVu Sans", "fontSize": 10.5, "strokeWidth": 4},
      "encoding": {"text": {"field": "t"}, "color": {"field": "c", "type": "ordinal", "scale": {"domain": [0,0.1,0.2,0.3,0.4,0.5,0.6,0.7,0.8,0.9,1.0], "range": ["#eef4f8","#dce8f2","#c4d7e9","#aac5df","#97b0d5","#8b91c4","#8b72b5","#8955a7","#863598","#7e137c","#5c0a5b"]}, "legend": null}, "stroke": {"field": "c", "type": "ordinal", "scale": {"domain": [0,0.1,0.2,0.3,0.4,0.5,0.6,0.7,0.8,0.9,1.0], "range": ["#eef4f8","#dce8f2","#c4d7e9","#aac5df","#97b0d5","#8b91c4","#8b72b5","#8955a7","#863598","#7e137c","#5c0a5b"]}, "legend": null}}},
     {"data": {"name": "labels"}, "transform": [{"filter": "datum.p == 3"}], "mark": {"type": "text", "angle": 75, "font": "DejaVu Sans", "fontSize": 10.5, "color": "#333"},
      "encoding": {"text": {"field": "t"}}}
    ]
   }
  ]
 },
 {
  "spacing": 6,
  "hconcat": [
   {
    "width": 750, "height": 38,
    "view": {"stroke": "#333", "strokeWidth": 1.5},
    "data": {"name": "bar"},
    "mark": "rect",
    "encoding": {
     "x": {"field": "v", "type": "quantitative", "scale": {"domain": [0, 1.1], "nice": false, "zero": false}, "axis": {"title": null, "values": [0,0.1,0.2,0.3,0.4,0.5,0.6,0.7,0.8,0.9,1.0,1.1], "format": ".1f", "labelFontSize": 12, "labelPadding": 4}},
     "x2": {"field": "v2"},
     "color": {"field": "v", "type": "ordinal", "scale": {"domain": [0,0.1,0.2,0.3,0.4,0.5,0.6,0.7,0.8,0.9,1.0], "range": ["#eef4f8","#dce8f2","#c4d7e9","#aac5df","#97b0d5","#8b91c4","#8b72b5","#8955a7","#863598","#7e137c","#5c0a5b"]}, "legend": null}
    }
   },
   {"width": 15, "height": 38, "view": {"stroke": null, "fill": "white"}, "data": {"values": []}, "mark": "rect"}
  ]
 }
]
}
